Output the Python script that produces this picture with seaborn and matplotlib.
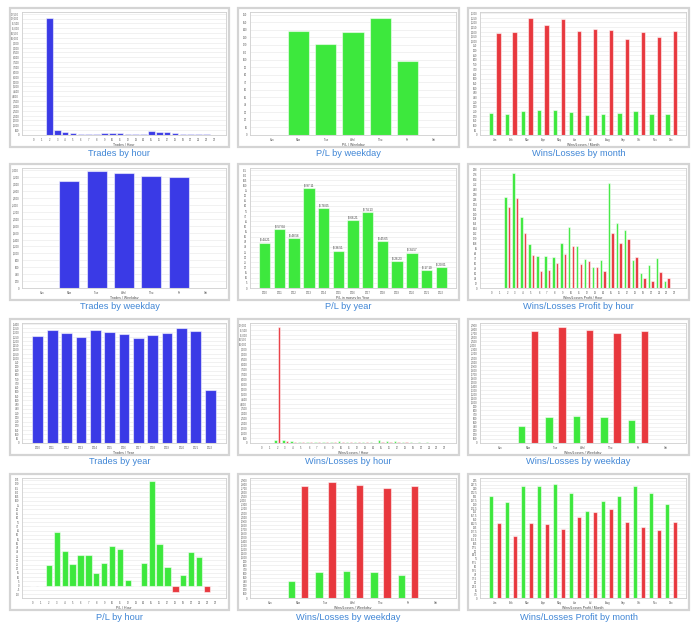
import numpy as np
import pandas as pd
import matplotlib
matplotlib.use("Agg")
import matplotlib.pyplot as plt
import seaborn as sns
from matplotlib.patches import Rectangle
from matplotlib.ticker import FuncFormatter, FixedLocator

sns.set_theme(style="white")
plt.rcParams['font.family'] = ['Liberation Sans', 'DejaVu Sans']

# ---------------- data ----------------
hours = [str(h) for h in range(24)]
weekdays = ["Sun", "Mon", "Tue", "Wed", "Thu", "Fri", "Sat"]
months = ["Jan", "Feb", "Mar", "Apr", "May", "Jun", "Jul", "Aug", "Sep", "Oct", "Nov", "Dec"]
years = [str(y) for y in range(2010, 2023)]

trades_by_hour = [0, 0, 12090, 520, 345, 200, 150, 150, 150, 200, 250, 200,
                  150, 150, 150, 400, 320, 330, 200, 120, 120, 120, 80, 0]
pl_by_weekday = [0, 137.8, 121.3, 136.4, 156.0, 98.2, 0]
wins_by_month = [237, 223, 251, 266, 262, 248, 216, 227, 237, 251, 227, 223]
losses_by_month = [1084, 1095, 1243, 1169, 1233, 1109, 1126, 1116, 1020, 1095, 1049, 1109]

trades_by_weekday = [0, 3084, 3371, 3333, 3247, 3199, 0]
pl_by_year = [44.21, 57.04, 48.56, 97.11, 78.05, 36.51, 66.21, 74.13, 45.65, 26.23, 34.57, 17.10, 20.01]
win_profit_by_hour = [0, 0, 222, 281, 173, 107, 77, 79, 75, 109, 148, 102,
                      70, 51, 69, 255, 158, 141, 67, 37, 56, 72, 16, 0]
loss_profit_by_hour = [0, 0, 197, 219, 134, 81, 42, 44, 61, 83, 102, 59,
                       65, 52, 42, 133, 110, 119, 75, 25, 18, 39, 24, 0]

trades_by_year = [1255, 1324, 1297, 1247, 1324, 1305, 1286, 1232, 1267, 1297, 1347, 1316, 629]
wins_by_hour = [0, 0, 315, 330, 200, 130, 100, 90, 100, 140, 160, 110,
                90, 90, 80, 280, 200, 200, 110, 60, 60, 70, 40, 0]
losses_by_hour = [0, 0, 11800, 180, 120, 80, 60, 60, 60, 70, 100, 70,
                  60, 60, 50, 120, 100, 120, 80, 50, 50, 40, 40, 0]
wins_by_weekday = [0, 428, 646, 662, 638, 557, 0]
losses_by_weekday = [0, 2763, 2843, 2787, 2706, 2755, 0]

pl_by_hour = [0, 0, 24.6, 63.7, 41.4, 25.8, 35.9, 35.9, 14.8, 27.3, 46.5, 43.8,
              6.3, -0.8, 27.3, 123.8, 49.6, 21.5, -7.8, 12.5, 39.8, 34.0, -7.0, 0]
win_profit_by_month = [195, 184, 214, 214, 218, 202, 166, 186, 195, 214, 202, 180]
loss_profit_by_month = [144, 119, 143, 141, 132, 156, 164, 171, 146, 136, 130, 145]

# ---------------- style ----------------
BLUE = "#3a3ae6"
GREEN = "#3de83d"
RED = "#e8383e"
TITLE_C = "#4187d6"
EDGE = (1, 1, 1, 0.55)
W, H = 696, 632

fig = plt.figure(figsize=(W / 100, H / 100), dpi=100)
fig.patch.set_facecolor("white")

col_frames = [(10, 229), (238, 459), (468, 689)]
row_frames = [(8, 147), (164, 300), (319, 455), (474, 610)]


def make_ax(r, c):
    x0, x1 = col_frames[c]
    y0, y1 = row_frames[r]
    fig.patches.append(Rectangle((x0 / W, 1 - y1 / H), (x1 - x0) / W, (y1 - y0) / H,
                                 transform=fig.transFigure, fill=False,
                                 edgecolor="#d4d4d4", lw=1.6, zorder=0))
    ax_l, ax_r = x0 + 12, x1 - 3
    ax_t, ax_b = y0 + 4, y1 - 12
    ax = fig.add_axes([ax_l / W, 1 - ax_b / H, (ax_r - ax_l) / W, (ax_b - ax_t) / H])
    return ax


def style(ax, n, pad, ticks, ylim, xlabel, title, r, c, fmt="{:,.0f}"):
    ax.set_xlim(-pad, n - 1 + pad)
    ax.set_ylim(*ylim)
    ax.yaxis.set_major_locator(FixedLocator(ticks))
    ax.yaxis.set_major_formatter(FuncFormatter(lambda v, p: fmt.format(v)))
    ax.grid(axis="y", color="#ebebeb", lw=0.5)
    ax.set_axisbelow(True)
    for s in ax.spines.values():
        s.set_color("#cfcfcf")
        s.set_linewidth(0.6)
    ax.tick_params(axis="both", labelsize=1.9, length=1.0, width=0.4, pad=1.0,
                   colors="#555555")
    ax.set_xlabel(xlabel, fontsize=2.5, labelpad=1.0, color="#444444")
    ax.set_ylabel("")
    x0, x1 = col_frames[c]
    y1 = row_frames[r][1]
    fig.text((x0 + x1) / 2 / W, 1 - (y1 + 7) / H, title, ha="center", va="center",
             fontsize=6.7, color=TITLE_C)


def single(ax, cats, vals, color, width):
    sns.barplot(x=cats, y=vals, order=cats, color=color, saturation=1, width=width,
                edgecolor=EDGE, linewidth=0.8, ax=ax)


def pair(ax, cats, wins, losses, width, gap):
    df = pd.DataFrame({"cat": cats * 2, "val": list(wins) + list(losses),
                       "kind": ["Wins"] * len(cats) + ["Losses"] * len(cats)})
    sns.barplot(data=df, x="cat", y="val", hue="kind", order=cats,
                hue_order=["Wins", "Losses"], palette={"Wins": GREEN, "Losses": RED},
                saturation=1, width=width, gap=gap, edgecolor=EDGE, linewidth=0.8,
                legend=False, ax=ax)


# Row 1
ax = make_ax(0, 0)
single(ax, hours, trades_by_hour, BLUE, 0.85)
style(ax, 24, 1.5, np.arange(0, 12501, 500), (0, 12670), "Trades / Hour", "Trades by hour", 0, 0)

ax = make_ax(0, 1)
single(ax, weekdays, pl_by_weekday, GREEN, 0.78)
style(ax, 7, 0.8, np.arange(0, 161, 10), (0, 163.5), "P/L / Weekday", "P/L by weekday", 0, 1)

ax = make_ax(0, 2)
pair(ax, months, wins_by_month, losses_by_month, 0.96, 0.4)
style(ax, 12, 0.93, np.arange(0, 1301, 50), (0, 1311), "Wins/Losses / Month",
      "Wins/Losses by month", 0, 2)

# Row 2
ax = make_ax(1, 0)
single(ax, weekdays, trades_by_weekday, BLUE, 0.73)
style(ax, 7, 0.72, np.arange(0, 3401, 200), (0, 3467), "Trades / Weekday",
      "Trades by weekday", 1, 0)

ax = make_ax(1, 1)
single(ax, years, pl_by_year, GREEN, 0.77)
for i, v in enumerate(pl_by_year):
    ax.text(i, v + 0.8, f"$ {v:.2f}", ha="center", va="bottom", fontsize=2.1, color="#333333")
style(ax, 13, 1.0, np.arange(0, 116, 5), (0, 117), "P/L in money by Year", "P/L by year", 1, 1)

ax = make_ax(1, 2)
pair(ax, hours, win_profit_by_hour, loss_profit_by_hour, 0.94, 0.28)
style(ax, 24, 1.4, np.arange(0, 289, 12), (0, 292), "Wins/Losses Profit / Hour",
      "Wins/Losses Profit by hour", 1, 2)

# Row 3
ax = make_ax(2, 0)
single(ax, years, trades_by_year, BLUE, 0.75)
style(ax, 13, 1.1, np.arange(0, 1401, 50), (0, 1411), "Trades / Year", "Trades by year", 2, 0)

ax = make_ax(2, 1)
pair(ax, hours, wins_by_hour, losses_by_hour, 0.94, 0.28)
style(ax, 24, 1.4, np.arange(0, 12001, 500), (0, 12170), "Wins/Losses / Hour",
      "Wins/Losses by hour", 2, 1)

ax = make_ax(2, 2)
pair(ax, weekdays, wins_by_weekday, losses_by_weekday, 0.96, 0.45)
style(ax, 7, 0.75, np.arange(0, 2901, 100), (0, 2950), "Wins/Losses / Weekday",
      "Wins/Losses by weekday", 2, 2)

# Row 4
ax = make_ax(3, 0)
sign = ["pos" if v >= 0 else "neg" for v in pl_by_hour]
sns.barplot(x=hours, y=pl_by_hour, hue=sign, order=hours, hue_order=["pos", "neg"],
            palette={"pos": GREEN, "neg": RED}, dodge=False, saturation=1, width=0.8,
            edgecolor=EDGE, linewidth=0.8, legend=False, ax=ax)
style(ax, 24, 1.4, np.arange(-10, 126, 5), (-14.5, 127), "P/L / Hour", "P/L by hour", 3, 0)

ax = make_ax(3, 1)
pair(ax, weekdays, wins_by_weekday, losses_by_weekday, 0.96, 0.45)
style(ax, 7, 0.75, np.arange(0, 2901, 100), (0, 2950), "Wins/Losses / Weekday",
      "Wins/Losses by weekday", 3, 1)

ax = make_ax(3, 2)
pair(ax, months, win_profit_by_month, loss_profit_by_month, 1.0, 0.42)
style(ax, 12, 0.93, np.arange(0, 226, 7.5), (0, 230), "Wins/Losses Profit / Month",
      "Wins/Losses Profit by month", 3, 2, fmt="{:g}")

fig.savefig("out.png", dpi=100, facecolor="white")
